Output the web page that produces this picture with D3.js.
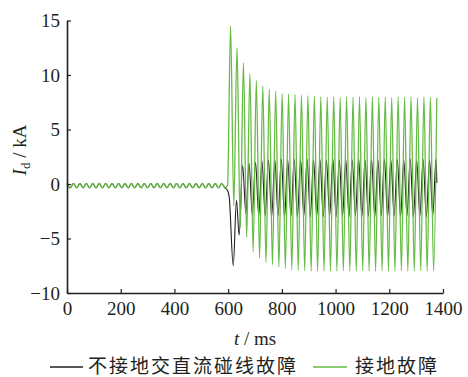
<!DOCTYPE html>
<html>
<head>
<meta charset="utf-8">
<script src="https://cdn.jsdelivr.net/npm/d3@7"></script>
<style>
  body { margin: 0; background: #fff; }
  svg { display: block; }
</style>
</head>
<body>
<div id="chart"></div>
<script>
// shared pre-fault waveform (extrema)
const preT = [0,12,24,36,48,60,72,84,96,108,120,132,144,156,168,180,192,204,216,228,240,252,264,276,288,
  300,312,324,336,348,360,372,384,396,408,420,432,444,456,468,480,492,504,516,528,540,552,564,576,588];
const preV = [0.05,-0.35,0.05,-0.35,0.05,-0.35,0.05,-0.35,0.05,-0.35,0.05,-0.35,0.05,-0.35,0.05,-0.35,
  0.05,-0.35,0.05,-0.35,0.05,-0.35,0.05,-0.35,0.05,-0.35,0.05,-0.35,0.05,-0.35,0.05,-0.35,0.05,-0.35,
  0.05,-0.35,0.05,-0.35,0.05,-0.35,0.05,-0.35,0.05,-0.35,0.05,-0.35,0.05,-0.35,0.05,-0.35];

// 接地故障 (after fault)
const greenT = [598,609,621,633,645,657,669,681,693,705,717,729,741,753,765,777,789,801,813,825,837,849,861,873,885,
  897,909,921,933,945,957,969,981,993,1005,1017,1029,1041,1053,1065,1077,1089,1101,1113,1125,1137,1149,
  1161,1173,1185,1197,1209,1221,1233,1245,1257,1269,1281,1293,1305,1317,1329,1341,1353,1365,1377];
const greenV = [-0.1,14.5,-2.0,12.5,-4.0,11.1,-4.9,10.1,-6.2,9.5,-6.8,9.0,-7.2,8.7,-7.4,8.5,-7.6,8.3,-7.75,8.25,
  -7.85,8.2,-7.9,8.15,-7.95,8.1,-8.0,8.05,
  -8.0,8.0,-7.95,7.95,-8.0,8.0,-8.0,7.9,-7.95,8.0,-8.0,7.95,-8.0,8.0,-7.95,7.9,-8.0,8.0,-8.0,7.95,
  -7.95,8.0,-8.0,7.9,-8.0,8.0,-7.95,7.95,-8.0,8.0,-8.0,7.9,-7.95,8.0,-8.0,7.95,-8.0,7.9];

// 不接地交直流碰线故障 (after fault)
const blackT = [598,604,619,631,641,654,666,678,690,702,714,726,738,750,762,774,786,798,810,822,834,846,858,870,882,
  894,906,918,930,942,954,966,978,990,1002,1014,1026,1038,1050,1062,1074,1086,1098,1110,1122,1134,1146,
  1158,1170,1182,1194,1206,1218,1230,1242,1254,1266,1278,1290,1302,1314,1326,1338,1350,1362,1374,1377];
const blackV = [-0.6,-1.2,-7.5,-1.5,-4.7,1.7,-2.7,1.9,-2.8,2.0,-2.9,2.1,-2.9,2.2,-3.0,
  2.2,-2.9,2.3,-3.0, 2.2,-2.95,2.25,-3.0, 2.2,-2.9,2.3,-3.0, 2.2,-2.95,2.25,-3.0,
  2.2,-2.9,2.3,-3.0, 2.2,-2.95,2.25,-3.0, 2.2,-2.9,2.3,-3.0, 2.2,-2.95,2.25,-3.0,
  2.2,-2.9,2.3,-3.0, 2.2,-2.95,2.25,-3.0, 2.2,-2.9,2.3,-3.0, 2.2,-2.95,2.25,-3.0,
  2.2,-2.9,2.3,0.1];

const xTicks = [0,200,400,600,800,1000,1200,1400];
const yTicks = [-10,-5,0,5,10,15];
const legendNames = ["不接地交直流碰线故障", "接地故障"];

const width = 468, height = 377;
const margin = {left: 67, right: 25, top: 20.5, bottom: 84};
const serif = "Liberation Serif, Times New Roman, serif";

const x = d3.scaleLinear().domain([0, 1400]).range([margin.left, width - margin.right]);
const y = d3.scaleLinear().domain([-10, 15]).range([height - margin.bottom, margin.top]);

const svg = d3.select("#chart").append("svg")
  .attr("width", width)
  .attr("height", height);

const toPts = (ts, vs) => ts.map((t, i) => [t, vs[i]]);
const pre = toPts(preT, preV);
const blackData = pre.concat(toPts(blackT, blackV));
const greenData = pre.concat(toPts(greenT, greenV));

const line = d3.line()
  .x(d => x(d[0]))
  .y(d => y(d[1]))
  .curve(d3.curveMonotoneX);

svg.append("path")
  .attr("d", line(blackData))
  .attr("fill", "none")
  .attr("stroke", "#231f20")
  .attr("stroke-width", 1.1);

svg.append("path")
  .attr("d", line(greenData))
  .attr("fill", "none")
  .attr("stroke", "#66bb44")
  .attr("stroke-width", 1.3);

// axes, ticks pointing inwards
const fmt = d => d < 0 ? "\u2212" + Math.abs(d) : String(d);

const yAxis = svg.append("g")
  .attr("transform", `translate(${margin.left},0)`)
  .call(d3.axisLeft(y).tickValues(yTicks).tickFormat(fmt).tickSizeInner(-4).tickSizeOuter(0).tickPadding(7));

const xAxis = svg.append("g")
  .attr("transform", `translate(0,${height - margin.bottom})`)
  .call(d3.axisBottom(x).tickValues(xTicks).tickFormat(fmt).tickSizeInner(-4).tickSizeOuter(0).tickPadding(9));

[xAxis, yAxis].forEach(g => {
  g.attr("font-family", serif).attr("font-size", 19);
  g.select(".domain").attr("stroke", "#231f20").attr("stroke-width", 1.6);
  g.selectAll(".tick line").attr("stroke", "#231f20").attr("stroke-width", 1.2);
  g.selectAll(".tick text").attr("fill", "#231f20");
});

// axis titles
svg.append("text")
  .attr("x", x(700))
  .attr("y", 345)
  .attr("text-anchor", "middle")
  .attr("font-family", serif)
  .attr("font-size", 19)
  .attr("fill", "#231f20")
  .html('<tspan font-style="italic">t</tspan> / ms');

svg.append("text")
  .attr("transform", "translate(26,150) rotate(-90)")
  .attr("text-anchor", "middle")
  .attr("font-family", serif)
  .attr("font-size", 19)
  .attr("fill", "#231f20")
  .html('<tspan font-style="italic">I</tspan><tspan font-size="13px" dy="4">d</tspan><tspan dy="-4"> / kA</tspan>');

// legend
const legendItems = [
  {name: legendNames[0], color: "#231f20", x0: 50, x1: 83, tx: 88},
  {name: legendNames[1], color: "#66bb44", x0: 313, x1: 347, tx: 355}
];
const lg = svg.append("g");
legendItems.forEach(d => {
  lg.append("line")
    .attr("x1", d.x0).attr("x2", d.x1)
    .attr("y1", 367).attr("y2", 367)
    .attr("stroke", d.color)
    .attr("stroke-width", 1.3);
  lg.append("text")
    .attr("x", d.tx)
    .attr("y", 373)
    .attr("font-family", "Noto Sans CJK SC, sans-serif")
    .attr("font-size", 19)
    .style("letter-spacing", "2px")
    .attr("fill", "#231f20")
    .text(d.name);
});
</script>
</body>
</html>
